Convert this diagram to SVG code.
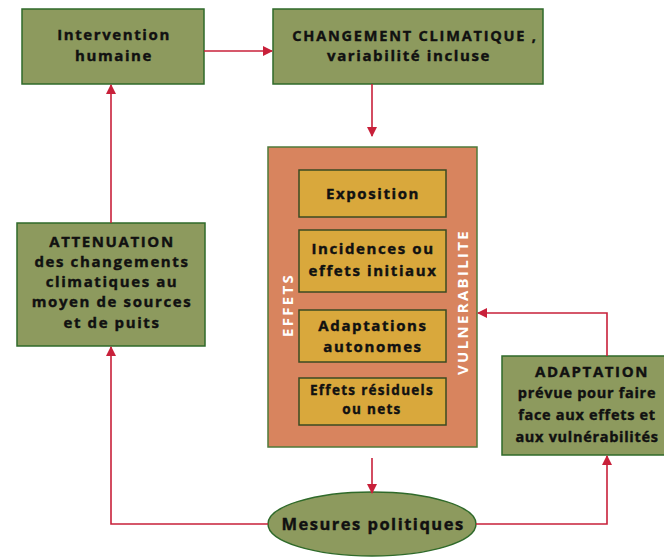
<svg xmlns="http://www.w3.org/2000/svg" width="664" height="560" viewBox="0 0 664 560">
  <style>
    .green { fill: #8d9a5e; stroke: #2f6a2a; stroke-width: 1.5; }
    .outer { fill: #d8845e; stroke: #4f7a3a; stroke-width: 1.5; }
    .inner { fill: #d9a83c; stroke: #3a4a22; stroke-width: 1.5; }
    .t { font-family: "Open Sans", "Liberation Sans", sans-serif; font-weight: 700; fill: #111; stroke: #111; stroke-width: 0.4; text-anchor: middle; font-size: 15px; letter-spacing: 1.6px; }
    .tight { font-size: 14.5px; letter-spacing: 0.7px; }
    .side { font-family: "Open Sans", "Liberation Sans", sans-serif; font-weight: 700; fill: #fff; text-anchor: middle; font-size: 15px; letter-spacing: 2.3px; }
    .link { fill: none; stroke: #c8203a; stroke-width: 1.6; }
  </style>
  <defs>
    <marker id="arrow" markerWidth="10" markerHeight="10" refX="9" refY="5" orient="auto" markerUnits="userSpaceOnUse">
      <path d="M0,0 L10,5 L0,10 z" fill="#c8203a"/>
    </marker>
  </defs>
  <rect width="664" height="560" fill="#fff"/>

  <g id="intervention">
    <rect class="green" x="22" y="9" width="182" height="75"/>
    <text class="t" x="114" y="40">Intervention</text>
    <text class="t" x="114" y="61">humaine</text>
  </g>

  <g id="changement">
    <rect class="green" x="273" y="9" width="270" height="75"/>
    <text class="t" x="415" y="41" style="font-size:14.5px;letter-spacing:1.8px">CHANGEMENT CLIMATIQUE ,</text>
    <text class="t" x="409" y="61">variabilité incluse</text>
  </g>

  <g id="vulnerabilite">
    <rect class="outer" x="268" y="147" width="209" height="300"/>
    <text class="side" transform="translate(293 305) rotate(-90)">EFFETS</text>
    <text class="side" transform="translate(468 302) rotate(-90)">VULNERABILITE</text>
  </g>

  <g id="exposition">
    <rect class="inner" x="299" y="170" width="147" height="47"/>
    <text class="t" x="373" y="199">Exposition</text>
  </g>

  <g id="incidences">
    <rect class="inner" x="299" y="230" width="147" height="62"/>
    <text class="t" x="373" y="254">Incidences ou</text>
    <text class="t" x="373" y="276">effets initiaux</text>
  </g>

  <g id="adaptations">
    <rect class="inner" x="299" y="310" width="147" height="52"/>
    <text class="t" x="373" y="331">Adaptations</text>
    <text class="t" x="373" y="352">autonomes</text>
  </g>

  <g id="effets-residuels">
    <rect class="inner" x="299" y="378" width="147" height="47"/>
    <text class="t" x="372" y="395" style="font-size:13.5px;letter-spacing:1.3px">Effets résiduels</text>
    <text class="t" x="372" y="414" style="font-size:13.5px;letter-spacing:1.3px">ou nets</text>
  </g>

  <g id="attenuation">
    <rect class="green" x="17" y="223" width="188" height="123"/>
    <text class="t" x="112" y="247">ATTENUATION</text>
    <text class="t" x="112" y="267">des changements</text>
    <text class="t" x="112" y="287">climatiques au</text>
    <text class="t" x="112" y="307">moyen de sources</text>
    <text class="t" x="112" y="328">et de puits</text>
  </g>

  <g id="adaptation">
    <rect class="green" x="502" y="356" width="170" height="99"/>
    <text class="t" x="592" y="377">ADAPTATION</text>
    <text class="t tight" x="587" y="398">prévue pour faire</text>
    <text class="t tight" x="587" y="420">face aux effets et</text>
    <text class="t tight" x="587" y="442">aux vulnérabilités</text>
  </g>

  <g id="mesures">
    <ellipse class="green" cx="372" cy="524" rx="104" ry="32"/>
    <text class="t" x="373" y="530" style="font-size:16.5px;letter-spacing:1.5px">Mesures politiques</text>
  </g>

  <g id="connectors">
    <line class="link" x1="204" y1="51" x2="272" y2="51" marker-end="url(#arrow)"/>
    <line class="link" x1="372" y1="84" x2="372" y2="136" marker-end="url(#arrow)"/>
    <line class="link" x1="111" y1="223" x2="111" y2="85" marker-end="url(#arrow)"/>
    <line class="link" x1="372" y1="458" x2="372" y2="493" marker-end="url(#arrow)"/>
    <polyline class="link" points="268,524 111,524 111,347" marker-end="url(#arrow)"/>
    <polyline class="link" points="476,524 607,524 607,456" marker-end="url(#arrow)"/>
    <polyline class="link" points="607,356 607,313 478,313" marker-end="url(#arrow)"/>
  </g>
</svg>
